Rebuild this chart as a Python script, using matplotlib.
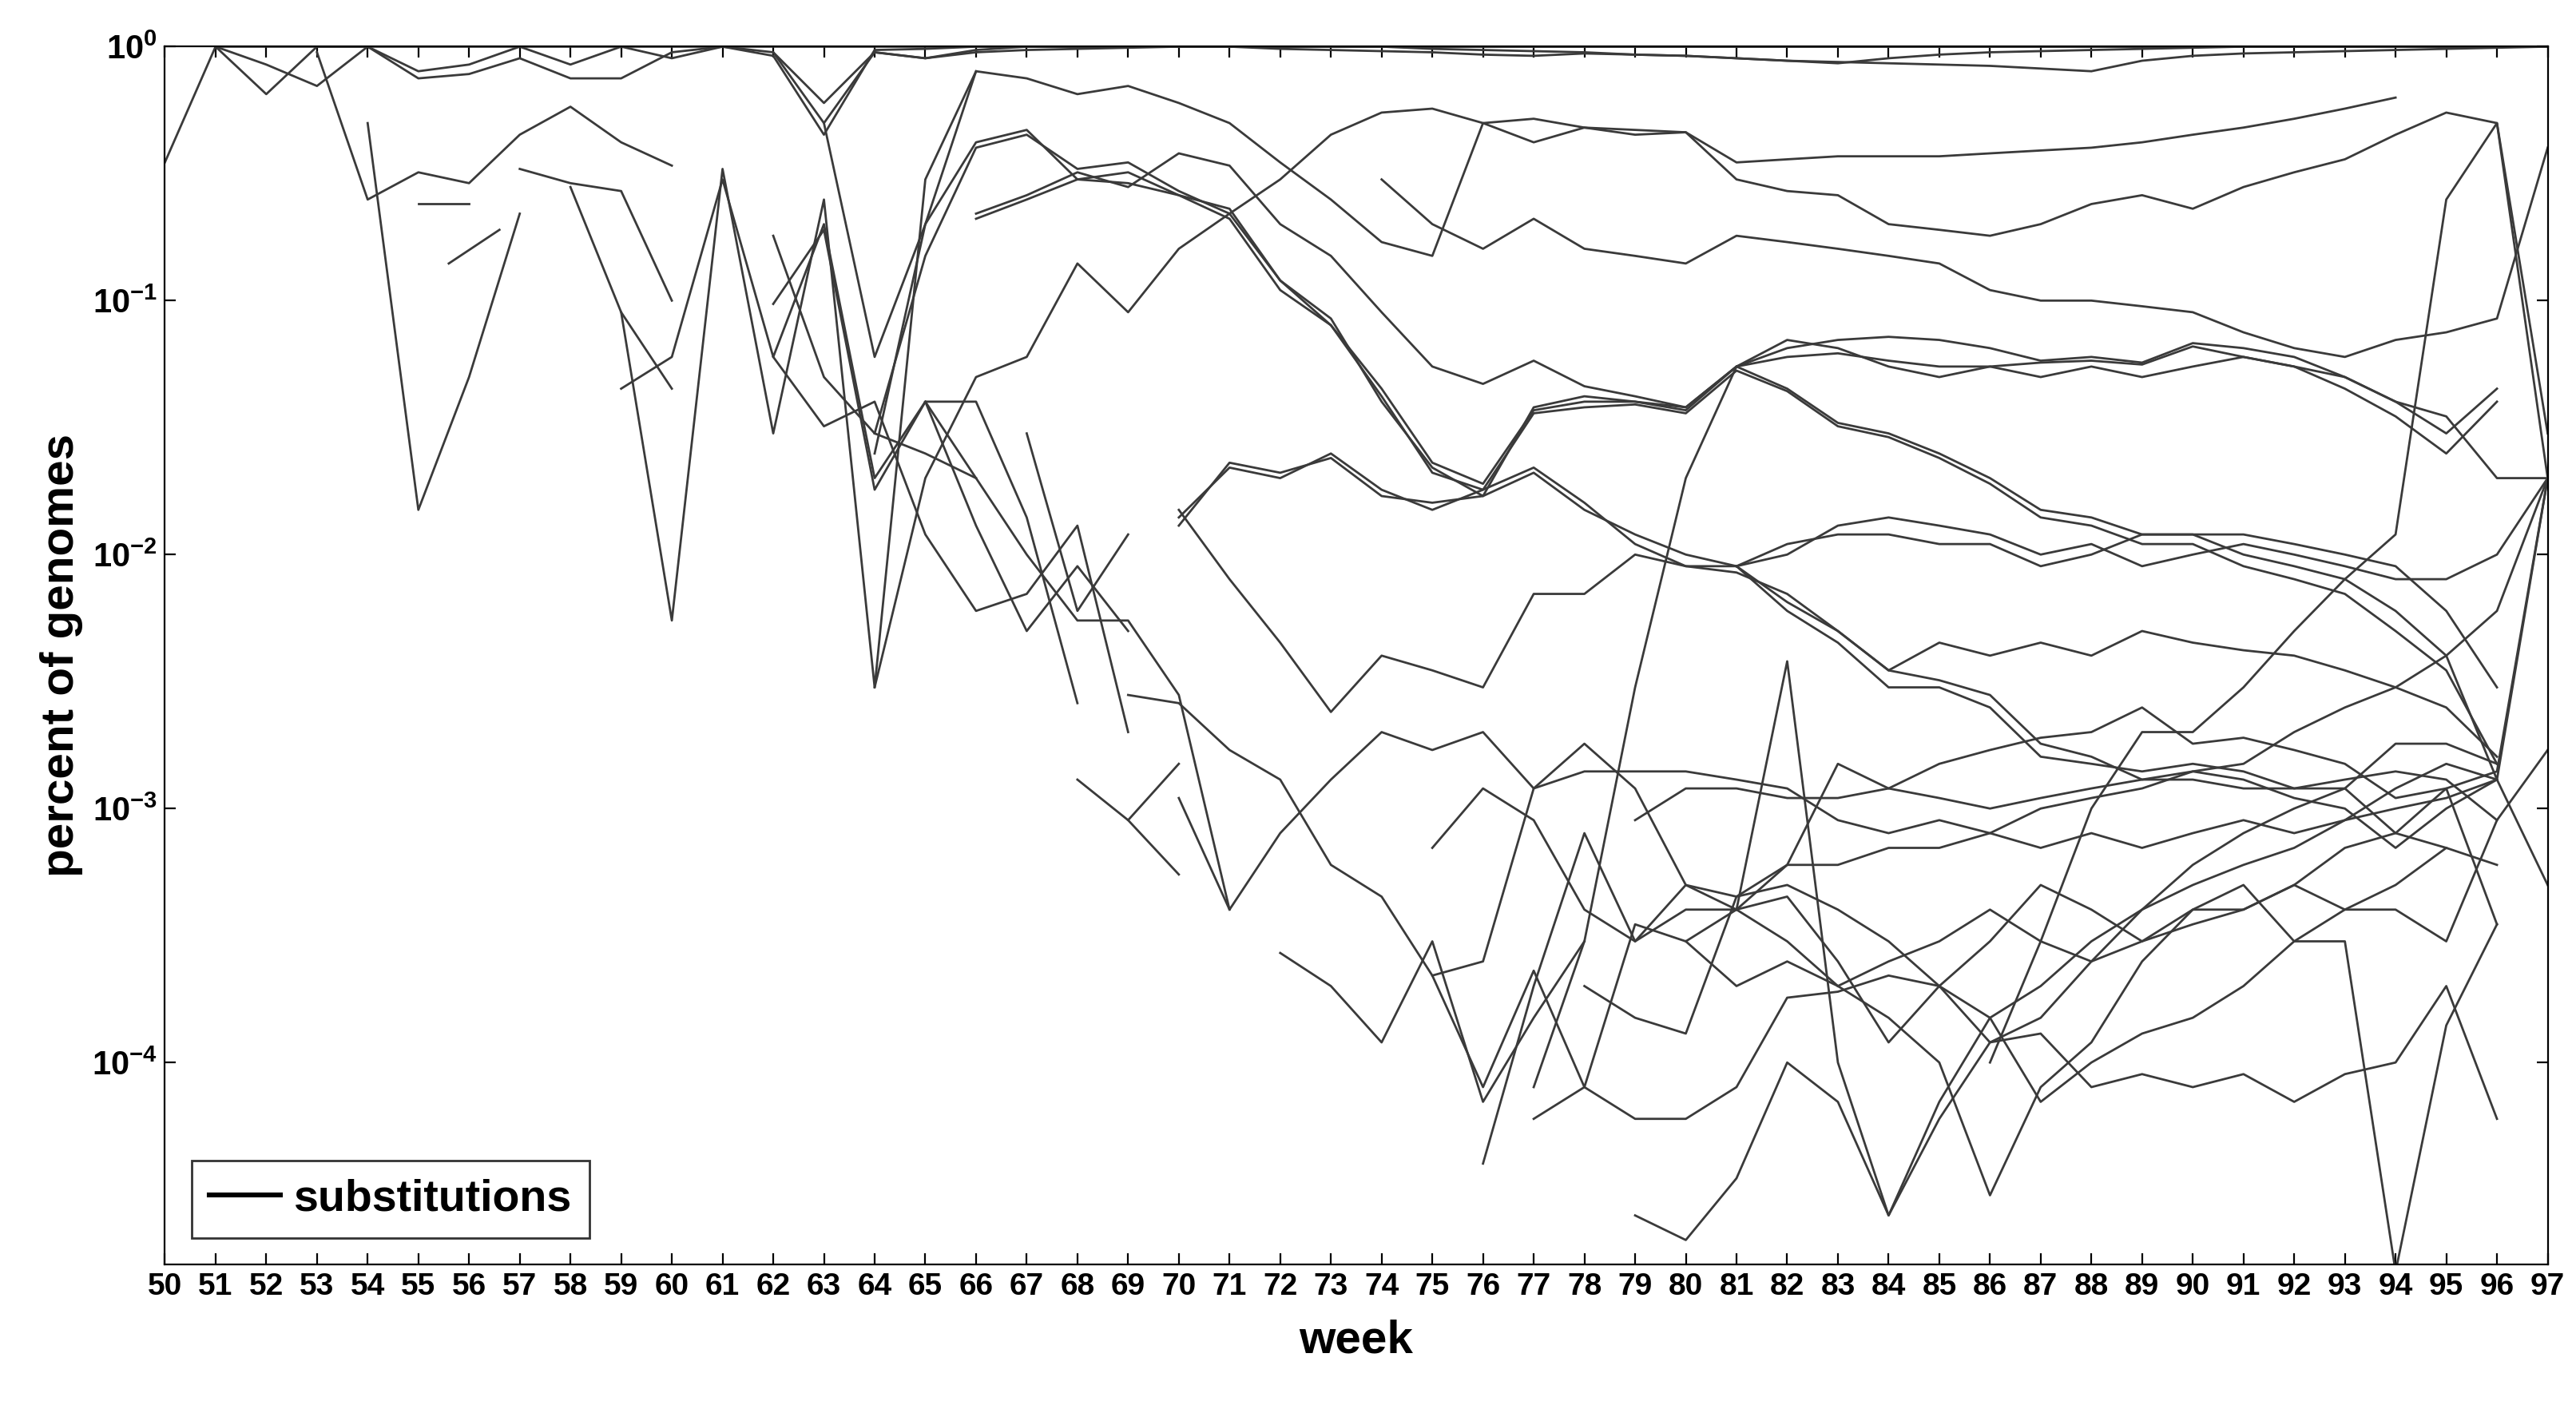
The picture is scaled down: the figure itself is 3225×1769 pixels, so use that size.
import numpy as np
import matplotlib
matplotlib.use("Agg")
import matplotlib.pyplot as plt

plt.rcParams['font.family'] = ['Liberation Sans', 'DejaVu Sans']
plt.rcParams['mathtext.fontset'] = 'custom'
plt.rcParams['mathtext.bf'] = 'Liberation Sans:bold'
plt.rcParams['mathtext.rm'] = 'Liberation Sans'

weeks = list(range(50, 98))

# each series: (start week, values)
series = [
 (50, [0.35,1,1,1,1,1,1,1,1,1,1,1,1,1,1,1,1,1,1,1,1,1,1,1,1,1,1,1,1,1,1,1,1,1,1,1,1,1,1,1,1,1,1,1,1,1,1,1]),
 (51, [1,0.65,1,1,0.75,0.78,0.9,0.75,0.75,0.95,1,0.95,0.6,0.95,0.9,0.95,0.97,0.98,0.99,1,1,1,1,1,1,1,1,1,1,1,1,1,1,1,1,1,1,1,1,1,1,1,1,1,1,1,1]),
 (51, [1,0.85,0.7,1,0.8,0.85,1,0.85,1,0.9,1,0.92,0.45,0.97,0.98,1,1,1,1,1,1,1,1,1,0.98,0.97,0.96,0.95,0.93,0.92,0.9,0.88,0.86,0.9,0.93,0.95,0.96,0.97,0.98,0.99,1,1,1,1,1,1,1]),
 (62, [0.95,0.5,0.95,0.9,0.97,1,1,1,1,1,0.98,0.97,0.96,0.95,0.93,0.92,0.94,0.93,0.92,0.9,0.88,0.87,0.86,0.85,0.84,0.82,0.8,0.88,0.92,0.94,0.95,0.96,0.97,0.98,0.99,1]),
 (53, [0.95,0.25,0.32,0.29,0.45,0.58,0.42,0.34]),
 (54, [0.5,0.015,0.05,0.22]),
 (55, [0.24,0.24]),
 (55.6, [0.14,0.19]),
 (57, [0.33,0.29,0.27,0.1]),
 (58, [0.28,0.09,0.0055,0.33,0.03,0.25,0.003,0.3,0.8]),
 (59, [0.045,0.06,0.3,0.06,0.2,0.02,0.04,0.013,0.005,0.009,0.005]),
 (59, [0.09,0.045]),
 (62, [0.097,0.19,0.018,0.04,0.04,0.014,0.0026]),
 (62, [0.06,0.032,0.04,0.012,0.006,0.007,0.013,0.002]),
 (62, [0.18,0.05,0.03,0.025,0.02]),
 (63, [0.5,0.06,0.2,0.8,0.75,0.65,0.7,0.6,0.5,0.35,0.25,0.17,0.15,0.5,0.42,0.48,0.45,0.46,0.3,0.27,0.26,0.2,0.19,0.18,0.2,0.24,0.26,0.23,0.28,0.32,0.36,0.45,0.55,0.5,0.02]),
 (64, [0.003,0.02,0.05,0.06,0.14,0.09,0.16,0.22,0.3,0.45,0.55,0.57,0.5,0.52,0.48,0.47,0.46,0.35,0.36,0.37,0.37,0.37,0.38,0.39,0.4,0.42,0.45,0.48,0.52,0.57,0.63]),
 (66, [0.22,0.26,0.32,0.28,0.38,0.34,0.2,0.15,0.09,0.055,0.047,0.058,0.046,0.042,0.038,0.055,0.06,0.062,0.058,0.055,0.055,0.057,0.058,0.056,0.066,0.06,0.055,0.045,0.035,0.025,0.04]),
 (66, [0.21,0.25,0.3,0.29,0.26,0.23,0.12,0.08,0.045,0.023,0.019,0.037,0.04,0.04,0.037,0.055,0.065,0.07,0.072,0.07,0.065,0.058,0.06,0.057,0.068,0.065,0.06,0.05,0.04,0.03,0.045]),
 (64, [0.03,0.15,0.4,0.45,0.33,0.35,0.27,0.22,0.12,0.085,0.04,0.022,0.017,0.038,0.042,0.04,0.038,0.055,0.045,0.033,0.03,0.025,0.02,0.015,0.014,0.012,0.012,0.01,0.009,0.008,0.006,0.004,0.0013,0.02]),
 (64, [0.025,0.2,0.42,0.47,0.3,0.32,0.26,0.21,0.11,0.08,0.042,0.021,0.018,0.036,0.038,0.039,0.036,0.053,0.044,0.032,0.029,0.024,0.019,0.014,0.013,0.011,0.011,0.009,0.008,0.007,0.005,0.0035,0.0015]),
 (74, [0.3,0.2,0.16,0.21,0.16,0.15,0.14,0.18,0.17,0.16,0.15,0.14,0.11,0.1,0.1,0.095,0.09,0.075,0.065,0.06,0.07,0.075,0.085,0.4]),
 (70, [0.014,0.022,0.02,0.025,0.018,0.015,0.018,0.022,0.016,0.011,0.009,0.009,0.006,0.0045,0.003,0.003,0.0025,0.0016,0.0015,0.0014,0.0015,0.0014,0.0012,0.0012,0.0008,0.0012,0.0014,0.02]),
 (70, [0.013,0.023,0.021,0.024,0.017,0.016,0.017,0.021,0.015,0.012,0.01,0.009,0.0065,0.005,0.0035,0.0032,0.0028,0.0018,0.0016,0.0013,0.0014,0.0013,0.0011,0.001,0.0007,0.001,0.0013]),
 (77, [0.00008,0.0003,0.003,0.02,0.055,0.07,0.065,0.055,0.05,0.055,0.05,0.055,0.05,0.055,0.06,0.055,0.05,0.04,0.035,0.02,0.02]),
 (81, [0.009,0.01,0.013,0.014,0.013,0.012,0.01,0.011,0.009,0.01,0.011,0.01,0.009,0.008,0.008,0.01,0.02]),
 (81, [0.009,0.011,0.012,0.012,0.011,0.011,0.009,0.01,0.012,0.012,0.012,0.011,0.01,0.009,0.006,0.003]),
 (86, [0.0001,0.0003,0.001,0.002,0.002,0.003,0.005,0.008,0.012,0.25,0.5,0.03]),
 (70, [0.015,0.008,0.0045,0.0024,0.004,0.0035,0.003,0.007,0.007,0.01,0.009,0.0085,0.007,0.005,0.0035,0.0045,0.004,0.0045,0.004,0.005,0.0045,0.0042,0.004,0.0035,0.003,0.0025,0.0016]),
 (69, [0.0028,0.0026,0.0017,0.0013,0.0006,0.00045,0.00022,0.00008,0.00023,0.00008,0.00035,0.0003,0.0004,0.00045,0.00025,0.00012,0.0002,0.0003,0.0005,0.0004,0.0003,0.00035,0.0004,0.0005,0.0007,0.0008,0.0007]),
 (65, [0.04,0.02,0.01,0.0055,0.0055,0.0028,0.0004,0.0008,0.0013,0.002,0.0017,0.002,0.0012,0.0014,0.0014,0.0014,0.0013,0.0012,0.0009,0.0008,0.0009,0.0008,0.0007,0.0008,0.0007,0.0008,0.0009,0.0008,0.0009,0.001,0.0011,0.0013]),
 (79, [0.000025,0.00002,0.000035,0.0001,0.00007,0.000025,0.00007,0.00015,0.00007,0.0001,0.00013,0.00015,0.0002,0.0003,0.0003,0.000015,0.00014,0.00035]),
 (76, [0.00004,0.0002,0.0008,0.0003,0.0005,0.00045,0.0006,0.0015,0.0012,0.0015,0.0017,0.0019,0.002,0.0025,0.0018,0.0019,0.0017,0.0015,0.0011,0.0012,0.00035]),
 (75, [0.0007,0.0012,0.0009,0.0004,0.0003,0.0004,0.0004,0.0006,0.0006,0.0007,0.0007,0.0008,0.001,0.0011,0.0012,0.0014,0.0015,0.002,0.0025,0.003,0.004,0.006,0.02]),
 (77, [0.00006,0.00008,0.00006,0.00006,0.00008,0.00018,0.00019,0.00022,0.0002,0.00012,0.00013,0.00008,0.00009,0.00008,0.00009,0.00007,0.00009,0.0001,0.0002,0.00006]),
 (80, [0.0003,0.0002,0.00025,0.0002,0.00025,0.0003,0.0004,0.0003,0.00025,0.0003,0.0004,0.0004,0.0005,0.0004,0.0005,0.0007,0.0006]),
 (79, [0.0009,0.0012,0.0012,0.0011,0.0011,0.0012,0.0011,0.001,0.0011,0.0012,0.0013,0.0013,0.0012,0.0012,0.0013,0.0014,0.0013,0.0009]),
 (81, [0.0004,0.0038,0.0001,0.000025,0.00006,0.00012,0.00015,0.00025,0.0004,0.0005,0.0006,0.0007,0.0009,0.0012,0.0015,0.0013,0.0005]),
 (83, [0.0002,0.00015,0.0001,0.00003,0.00008,0.00012,0.00025,0.0004,0.0005,0.0003,0.0004,0.0004,0.0003,0.0009,0.0017]),
 (72, [0.00027,0.0002,0.00012,0.0003,0.00007,0.00015,0.0003]),
 (75, [0.00022,0.00025,0.0012,0.0018,0.0012,0.0005,0.0004,0.0003,0.0002]),
 (68, [0.0013,0.0009,0.0015]),
 (70, [0.0011,0.0004]),
 (69, [0.0009,0.00055]),
 (67, [0.03,0.006,0.012]),
 (78, [0.0002,0.00015,0.00013,0.00045,0.0005,0.0004,0.0003,0.0002,0.00015,0.0002,0.0003,0.0004,0.0006,0.0008,0.001,0.0012,0.0018,0.0018,0.0015]),
]

fig = plt.figure(figsize=(16.125, 8.845), dpi=200)
ax = fig.add_axes([0.064, 0.105, 0.925, 0.862])
first = True
for start, vals in series:
    x = start + np.arange(len(vals))
    ax.plot(x, vals, color='#3a3a3a', lw=1.0, label='substitutions' if first else None)
    first = False
ax.set_yscale('log')
ax.set_xlim(50, 97)
ax.set_ylim(1.6e-5, 1.0)
ax.set_xticks(weeks)
ax.set_xticklabels([str(w) for w in weeks], fontweight='bold', fontsize=14)
ax.set_yticks([1e-4, 1e-3, 1e-2, 1e-1, 1])
ax.set_yticklabels([r'$\mathbf{10^{-4}}$', r'$\mathbf{10^{-3}}$', r'$\mathbf{10^{-2}}$', r'$\mathbf{10^{-1}}$', r'$\mathbf{10^{0}}$'], fontsize=15)
ax.minorticks_off()
ax.tick_params(direction='in', length=5, top=True, right=True)
ax.set_xlabel('week', fontweight='bold', fontsize=21, labelpad=8)
ax.set_ylabel('percent of genomes', fontweight='bold', fontsize=21)
leg = ax.legend(loc='lower left', handlelength=1.6, handletextpad=0.3, fancybox=False,
                edgecolor='black', prop={'weight': 'bold', 'size': 20},
                borderaxespad=0.6)
for h in leg.get_lines():
    h.set_linewidth(2.2)
    h.set_color('black')
fig.savefig('out.png', dpi=200)
